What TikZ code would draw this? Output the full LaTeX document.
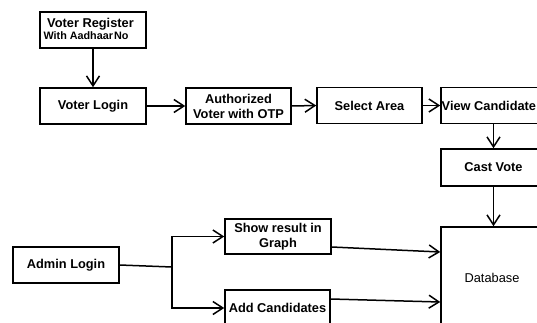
\documentclass[tikz,border=0pt]{standalone}
\usepackage{fontspec}
\setmainfont{Liberation Sans}
\usetikzlibrary{arrows.meta}
\begin{document}
\begin{tikzpicture}[x=1pt,y=1pt,
  box/.style={draw, line width=1.5pt, minimum width=106pt, minimum height=36pt, inner sep=0pt, align=center,
    font=\bfseries\fontsize{12.8}{15}\selectfont},
  lbl/.style={inner sep=0pt, font=\bfseries\fontsize{12.8}{15}\selectfont},
  conn/.style={line width=1.5pt, -{Straight Barb[length=10pt,width=13pt,line width=1.5pt]}},
  plain/.style={line width=1.5pt}]
\useasboundingbox (0,0) rectangle (537,322);
\clip (0,0) rectangle (537,322);
\node[box] (vreg) at (93,292) {};
\node[lbl] (vregt) at (90.5,298) {Voter Register};
\node[lbl, font=\bfseries\fontsize{10.8}{12}\selectfont] (vregs) at (86,286) {With Aadhaar\hspace{1pt}No};
\node[box] (vlogin) at (93,216) {Voter Login};
\node[box, minimum width=105pt] (auth) at (238.5,216) {Authorized\\Voter with OTP};
\node[box, minimum width=105pt] (sel) at (369.5,216.5) {Select Area};
\node[box, minimum width=105pt] (view) at (493.5,216.5) {};
\node[lbl, anchor=west] (viewt) at (441.5,216.5) {View Candidate};
\node[box, minimum width=105pt, minimum height=37pt] (cast) at (493.5,154.5) {Cast Vote};
\node[box, minimum width=102pt, minimum height=102pt, font=\fontsize{12.8}{15}\selectfont] (db) at (492,44) {Database};
\node[box] (admin) at (66,57) {Admin Login};
\node[box, minimum height=35pt] (show) at (278,85.5) {Show result in\\Graph};
\node[box, minimum width=105pt] (add) at (277.5,14) {Add Candidates};
\coordinate (j) at (172,55);
\draw[conn] (vreg.south) -- (vlogin.north);
\draw[conn] (vlogin.east) -- (auth.west);
\draw[conn] (auth.east) -- (sel.west);
\draw[conn] (sel.east) -- (view.west);
\draw[conn] (view.south) -- (cast.north);
\draw[conn] (cast.south) -- (cast.south |- db.north);
\draw[plain] (admin.east) -- (j);
\draw[conn] (j) |- (show.west);
\draw[conn] (j) |- (add.west);
\draw[conn] ([yshift=-10.5pt]show.east) -- ([yshift=26pt]db.west);
\draw[conn] ([yshift=9pt]add.east) -- ([yshift=-24pt]db.west);
\end{tikzpicture}
\end{document}
